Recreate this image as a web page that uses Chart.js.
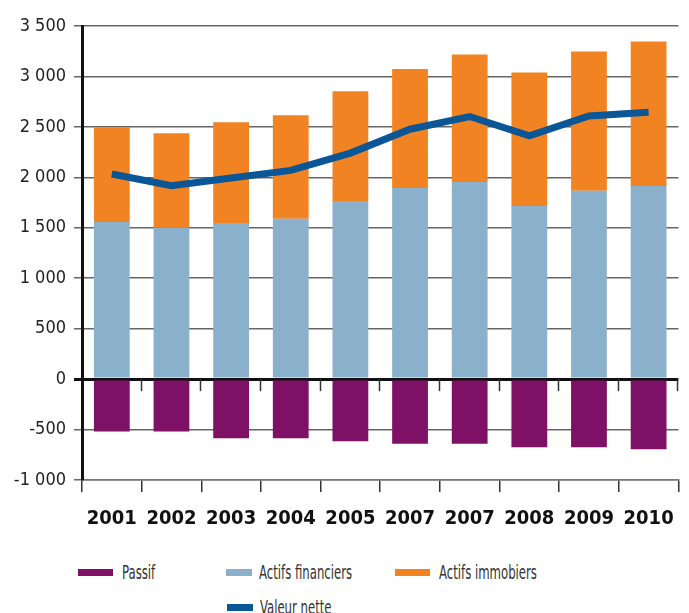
<!DOCTYPE html>
<html>
<head>
<meta charset="utf-8">
<script src="https://cdn.jsdelivr.net/npm/chart.js@4"></script>
<style>
  body { margin: 0; background: #fff; }
  #wrap { position: relative; width: 689px; height: 613px; }
  #box { position: absolute; left: 0; top: 0; width: 689px; height: 530px; }
  .lg { position: absolute; font-family: 'DejaVu Sans Condensed', 'Liberation Sans Narrow', sans-serif;
        font-size: 20px; color: #333; line-height: 20px; white-space: nowrap; }
  .lg .sw { position: absolute; top: 7px; height: 7px; }
  .lg .tx { display: inline-block; transform: scaleX(0.65); transform-origin: left center; }
</style>
</head>
<body>
<div id="wrap">
  <div id="box"><canvas id="chart"></canvas></div>
  <div id="legend"></div>
</div>
<script>
// data
const years = ['2001', '2002', '2003', '2004', '2005', '2007', '2007', '2008', '2009', '2010'];
const passif = [-520, -520, -585, -585, -615, -640, -640, -675, -675, -695];
const actifsFinanciers = [1558, 1500, 1548, 1590, 1766, 1894, 1953, 1716, 1868, 1914];
const actifsImmobiliers = [939, 938, 998, 1026, 1087, 1181, 1265, 1324, 1380, 1433];
const valeurNette = [2033, 1917, 1993, 2069, 2240, 2477, 2603, 2411, 2609, 2645];
const yMin = -1000, yMax = 3500, yStep = 500;

const font = "'DejaVu Sans Condensed', 'Liberation Sans Narrow', sans-serif";

function fmt(v) {
  const s = String(Math.abs(v)).replace(/\B(?=(\d{3})+(?!\d))/g, ' ');
  return (v < 0 ? '-' : '') + s;
}

// small tick marks along the zero line, between categories
const zeroTicks = {
  id: 'zeroTicks',
  afterDatasetsDraw(chart) {
    const x = chart.scales.x, y = chart.scales.y;
    const ctx = chart.ctx;
    const y0 = y.getPixelForValue(0);
    const step = (x.right - x.left) / years.length;
    ctx.save();
    ctx.strokeStyle = '#333';
    ctx.lineWidth = 1.5;
    for (let i = 1; i <= years.length; i++) {
      const px = Math.round(x.left + i * step) - 0.5;
      ctx.beginPath();
      ctx.moveTo(px, y0);
      ctx.lineTo(px, y0 + 12);
      ctx.stroke();
    }
    ctx.restore();
  }
};

const chart = new Chart(document.getElementById('chart'), {
  type: 'bar',
  data: {
    labels: years,
    datasets: [
      { label: 'Passif', data: passif, backgroundColor: '#7e1066', stack: 's', order: 1 },
      { label: 'Actifs financiers', data: actifsFinanciers, backgroundColor: '#8ab0cb', stack: 's', order: 1 },
      { label: 'Actifs immobiers', data: actifsImmobiliers, backgroundColor: '#f28323', stack: 's', order: 1 },
      { type: 'line', label: 'Valeur nette', data: valeurNette, borderColor: '#0a5696',
        backgroundColor: '#0a5696', borderWidth: 7, pointRadius: 0, tension: 0, order: 0 }
    ]
  },
  options: {
    responsive: true,
    maintainAspectRatio: false,
    animation: false,
    layout: { padding: { top: 26, right: 7, left: 0, bottom: 0 } },
    datasets: { bar: { barPercentage: 0.6, categoryPercentage: 1 } },
    plugins: { legend: { display: false }, tooltip: { enabled: false } },
    scales: {
      x: {
        stacked: true,
        grid: { drawOnChartArea: false, offset: true, color: '#333', lineWidth: 1.5, tickLength: 12 },
        border: { color: '#777', width: 1.5 },
        ticks: { color: '#111', padding: 15, font: { family: font, size: 20, weight: 'bold' } },
        afterFit(s) { s.height = 50; }
      },
      y: {
        stacked: true,
        min: yMin, max: yMax,
        grid: {
          color: c => (c.tick && c.tick.value === 0 ? '#111' : '#666'),
          lineWidth: c => (c.tick && c.tick.value === 0 ? 3 : 1.5),
          tickLength: 8
        },
        border: { color: '#111', width: 3 },
        ticks: { stepSize: yStep, color: '#222', padding: 8, font: { family: font, size: 18 },
                 callback: v => fmt(v) },
        afterFit(s) { s.width = 82; }
      }
    }
  },
  plugins: [zeroTicks]
});

// legend as html text
const legendItems = [
  { i: 0, sx: 78, sw: 35, tx: 122, y: 562 },
  { i: 1, sx: 226, sw: 26, tx: 259, y: 562 },
  { i: 2, sx: 395, sw: 35, tx: 439, y: 562 },
  { i: 3, sx: 227, sw: 26, tx: 260, y: 597 }
];
const lg = document.getElementById('legend');
legendItems.forEach(it => {
  const ds = chart.data.datasets[it.i];
  const d = document.createElement('div');
  d.className = 'lg';
  d.style.left = it.sx + 'px';
  d.style.top = it.y + 'px';
  d.style.paddingLeft = (it.tx - it.sx) + 'px';
  const sw = document.createElement('span');
  sw.className = 'sw';
  sw.style.left = '0px';
  sw.style.width = it.sw + 'px';
  sw.style.background = ds.backgroundColor;
  const tx = document.createElement('span');
  tx.className = 'tx';
  tx.textContent = ds.label;
  d.appendChild(sw);
  d.appendChild(tx);
  lg.appendChild(d);
});
</script>
</body>
</html>
